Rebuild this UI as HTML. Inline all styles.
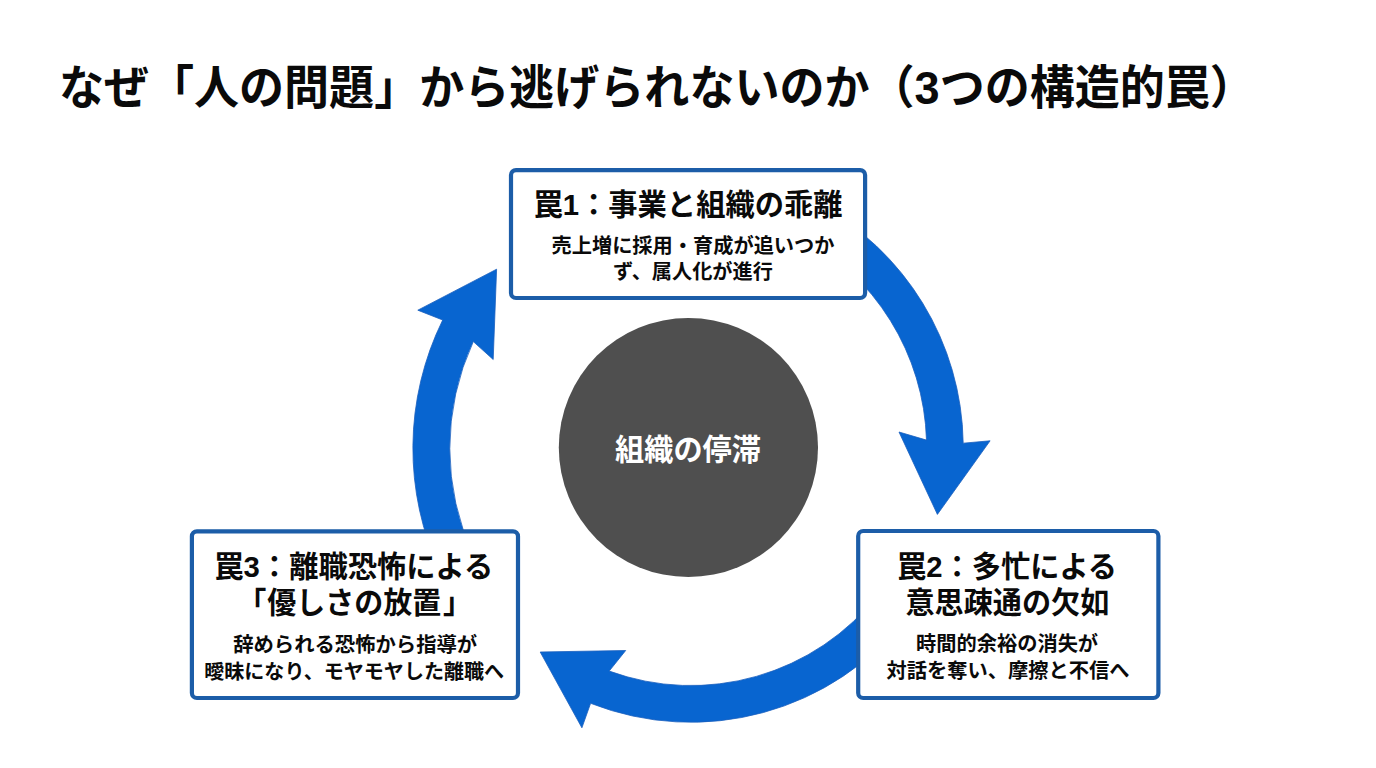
<!DOCTYPE html>
<html lang="ja"><head><meta charset="utf-8"><title>なぜ「人の問題」から逃げられないのか</title>
<style>html,body{margin:0;padding:0;background:#fff;font-family:"Liberation Sans",sans-serif}body{width:1376px;height:768px;overflow:hidden;position:relative}svg{position:absolute;left:0;top:0;display:block}text{font-family:"Liberation Sans","Noto Sans CJK JP",sans-serif}</style></head><body>
<svg width="1376" height="768" viewBox="0 0 1376 768">
<rect width="1376" height="768" fill="#fff"/>
<g fill="#0865D0" stroke="#1A5FBE" stroke-width="0.8" stroke-linejoin="miter">
<path d="M440.2 571.4A291.1 291.1 0 0 1 442.7 320L417.8 310.2L496.6 269.2L493.2 359.5L473.3 341.6A254.2 254.2 0 0 0 473.6 555.8Z"/>
<path d="M816.3 202.9A276.9 276.9 0 0 1 963.2 443.2L990.1 440.8L937.4 514.4L899 432L926.5 440.1A240.3 240.3 0 0 0 799.1 235.2Z"/>
<path d="M907.4 616.7A274.8 274.8 0 0 1 590.6 703.3L581.9 727.8L540.2 652L625.7 650.5L609.2 671.1A238.1 238.1 0 0 0 878.5 594.1Z"/>
</g>
<g fill="#fff" stroke="#1C5DA8" stroke-width="4.2">
<rect x="511" y="170.1" width="354.1" height="127.9" rx="5" ry="5"/>
<rect x="858.2" y="531" width="300.2" height="167" rx="5" ry="5"/>
<rect x="191.9" y="531.3" width="326.1" height="166.7" rx="5" ry="5"/>
</g>
<circle cx="688.4" cy="447.5" r="129.6" fill="#4F4F4F"/>
<text x="58.9" y="104.1" font-size="46.1" font-weight="bold" fill="#0A0A0A" textLength="1196" lengthAdjust="spacingAndGlyphs">なぜ「人の問題」から逃げられないのか（3つの構造的罠）</text>
<text x="533.5" y="215.2" font-size="29.4" font-weight="bold" fill="#0A0A0A" textLength="309" lengthAdjust="spacingAndGlyphs">罠1：事業と組織の乖離</text>
<text x="551.5" y="252.5" font-size="20.25" font-weight="bold" fill="#0A0A0A" textLength="283" lengthAdjust="spacingAndGlyphs">売上増に採用・育成が追いつか</text>
<text x="612.9" y="279.4" font-size="20.25" font-weight="bold" fill="#0A0A0A" textLength="160" lengthAdjust="spacingAndGlyphs">ず、属人化が進行</text>
<text x="897.0" y="576.5" font-size="29.4" font-weight="bold" fill="#0A0A0A" textLength="220" lengthAdjust="spacingAndGlyphs">罠2：多忙による</text>
<text x="905.4" y="613.4" font-size="29.4" font-weight="bold" fill="#0A0A0A" textLength="204" lengthAdjust="spacingAndGlyphs">意思疎通の欠如</text>
<text x="916.1" y="651.0" font-size="20.25" font-weight="bold" fill="#0A0A0A" textLength="182" lengthAdjust="spacingAndGlyphs">時間的余裕の消失が</text>
<text x="886.5" y="678.3" font-size="20.25" font-weight="bold" fill="#0A0A0A" textLength="243" lengthAdjust="spacingAndGlyphs">対話を奪い、摩擦と不信へ</text>
<text x="214.3" y="576.8" font-size="29.4" font-weight="bold" fill="#0A0A0A" textLength="279" lengthAdjust="spacingAndGlyphs">罠3：離職恐怖による</text>
<text x="236.9" y="613.4" font-size="29.4" font-weight="bold" fill="#0A0A0A">「</text>
<text x="267.3" y="613.4" font-size="29.4" font-weight="bold" fill="#0A0A0A" textLength="174" lengthAdjust="spacingAndGlyphs">優しさの放置</text>
<text x="443.0" y="613.4" font-size="29.4" font-weight="bold" fill="#0A0A0A">」</text>
<text x="233.2" y="651.8" font-size="20.25" font-weight="bold" fill="#0A0A0A" textLength="244" lengthAdjust="spacingAndGlyphs">辞められる恐怖から指導が</text>
<text x="204.2" y="678.8" font-size="20.25" font-weight="bold" fill="#0A0A0A" textLength="300" lengthAdjust="spacingAndGlyphs">曖昧になり、モヤモヤした離職へ</text>
<text x="615.0" y="460.4" font-size="29.5" font-weight="bold" fill="#FFFFFF" textLength="146" lengthAdjust="spacingAndGlyphs">組織の停滞</text>
</svg></body></html>
